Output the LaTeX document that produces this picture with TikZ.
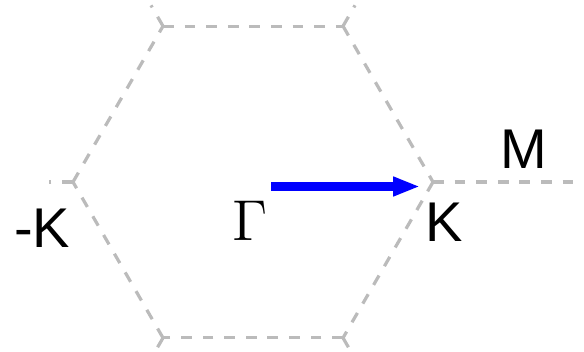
\documentclass[tikz,border=0pt]{standalone}
\usepackage{fontspec}
\setmainfont{Liberation Sans}
\usetikzlibrary{arrows.meta,positioning,calc}
\definecolor{zoneline}{RGB}{187,187,187}
\definecolor{kpath}{RGB}{0,0,255}

\begin{document}
\begin{tikzpicture}[x=0.25pt, y=-0.25pt,
  zone/.style={draw=zoneline, line width=0.8pt, dash pattern=on 2.7pt off 2.7pt},
  lbl/.style={inner sep=0pt, font=\fontsize{14}{16}\selectfont},
  karrow/.style={-{Triangle[length=6.7pt, width=4.5pt]}, line width=2.25pt, color=kpath}]
  \useasboundingbox (0,0) rectangle (584,351);
  \clip (0,0) rectangle (584,351);
  % first zone
  \coordinate (G) at (253,182);
  \foreach \a [count=\i from 0] in {0,60,...,300}{
    \coordinate (v\i) at ($(G)+(\a:180)$);
    \coordinate (s\i) at ($(G)+(\a:204)$);
  }
  \coordinate (s0) at (600,182);
  \foreach \i/\j in {0/1,1/2,2/3,3/4,4/5,5/0}
    \draw[zone] (v\i) -- (v\j);
  % stubs of the neighbouring zones
  \foreach \i in {0,...,5}
    \draw[zone] (v\i) -- (s\i);
  \node[lbl] (gamma) at (250,221) {$\Gamma$};
  \node[lbl] (kpt) at (444,222) {K};
  \node[lbl] (kneg) at (42,228) {-K};
  \node[lbl] (mpt) at (524,149) {M};
  \coordinate (kstart) at (271,186.5);
  \coordinate (kend) at (420,186.5);
  \draw[karrow] (kstart) -- (kend);
\end{tikzpicture}
\end{document}
